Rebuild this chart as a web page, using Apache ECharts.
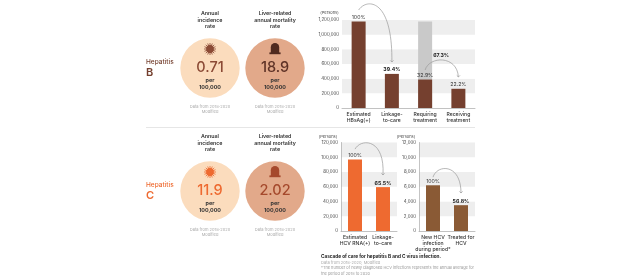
<!DOCTYPE html>
<html><head><meta charset="utf-8">
<style>html,body{margin:0;padding:0;background:#fff}#c{width:624px;height:277px}</style>
<script src="https://cdn.jsdelivr.net/npm/echarts@6/dist/echarts.min.js"></script>
</head><body><div id="c"></div>
<script>
const catsB = ['Estimated\nHBsAg(+)', 'Linkage-\nto-care', 'Requiring\ntreatment', 'Receiving\ntreatment'];
const valsB = [1180000, 465000, 388000, 262000];
const ghostB = [null, null, 1180000, null];
const pctB = ['100%', '39.4%', '32.9%', '22.2%'];
const pctTreated = '67.3%';
const catsC = ['Estimated\nHCV RNA(+)', 'Linkage-\nto-care'];
const valsC = [97000, 59500];
const pctC = ['100%', '65.5%'];
const catsN = ['New HCV\ninfection\nduring period*', 'Treated for\nHCV'];
const valsN = [6200, 3500];
const pctN = ['100%', '56.8%'];
const rates = ['0.71', '18.9', '11.9', '2.02'];

const F = 'Inter, "Noto Sans", sans-serif';
const BROWN = '#75402f', ORANGE = '#ee6a30', OCHRE = '#8a5a35';
const chart = echarts.init(document.getElementById('c'));

function txt(x, y, text, size, color, weight, align) {
  return {type:'text', x, y, silent:true, style:{text, fontSize:size, fill:color, fontWeight:weight||400,
    fontFamily:F, align:align||'center', verticalAlign:'middle', lineHeight:size*1.2}};
}
function virus(cx, cy, color) {
  const kids = [{type:'circle', shape:{cx, cy, r:3.9}, style:{fill:color}}];
  for (let i = 0; i < 16; i++) {
    const a = i * Math.PI / 8;
    kids.push({type:'line', shape:{x1:cx+3*Math.cos(a), y1:cy+3*Math.sin(a), x2:cx+6*Math.cos(a), y2:cy+6*Math.sin(a)},
      style:{stroke:color, lineWidth:0.8}});
  }
  return {type:'group', children:kids, silent:true};
}
function stone(cx, top, color) {
  return {type:'group', silent:true, children:[
    {type:'rect', shape:{x:cx-4.2, y:top, width:8.4, height:10, r:[4.2,4.2,0,0]}, style:{fill:color}},
    {type:'rect', shape:{x:cx-5.6, y:top+9.4, width:11.2, height:1.8}, style:{fill:color}}
  ]};
}
function circleBlock(cx, cy, fill, valueColor, value, icon) {
  return [
    {type:'circle', silent:true, shape:{cx, cy, r:29.7}, style:{fill}},
    icon,
    txt(cx, cy-0.5, value, 14.5, valueColor, 500),
    txt(cx, cy+12, 'per', 5.4, '#333', 700),
    txt(cx, cy+19.5, '100,000', 5.4, '#333', 700)
  ];
}
const graphics = [
  txt(210, 20, 'Annual\nincidence\nrate', 5.3, '#333', 600),
  txt(275, 20, 'Liver-related\nannual mortality\nrate', 5.3, '#333', 600),
  txt(210, 109.5, 'Data from 2018-2020\nModified', 4, '#aaa'),
  txt(275, 109.5, 'Data from 2018-2020\nModified', 4, '#aaa'),
  txt(146, 62, 'Hepatitis', 6.5, BROWN, 500, 'left'),
  txt(146, 73, 'B', 11, BROWN, 600, 'left'),
  ...circleBlock(210, 68, '#fbdcbd', '#8b4a35', rates[0], virus(210, 49, '#8b4a35')),
  ...circleBlock(275, 68, '#e2a98a', '#5e3226', rates[1], stone(275, 43, '#4f2a20')),
  {type:'line', silent:true, shape:{x1:146, y1:127.5, x2:475, y2:127.5}, style:{stroke:'#e6e6e6', lineWidth:1}},
  txt(210, 143, 'Annual\nincidence\nrate', 5.3, '#333', 600),
  txt(275, 143, 'Liver-related\nannual mortality\nrate', 5.3, '#333', 600),
  txt(210, 232.5, 'Data from 2018-2020\nModified', 4, '#aaa'),
  txt(275, 232.5, 'Data from 2018-2020\nModified', 4, '#aaa'),
  txt(146, 185, 'Hepatitis', 6.5, ORANGE, 500, 'left'),
  txt(146, 196, 'C', 11, ORANGE, 600, 'left'),
  ...circleBlock(210, 191, '#fbdcbd', ORANGE, rates[2], virus(210, 172, ORANGE)),
  ...circleBlock(275, 191, '#e2a98a', '#a5492c', rates[3], stone(275, 166, '#a5492c')),
  txt(321, 257, 'Cascade of care for hepatitis B and C virus infection.', 4.7, '#222', 700, 'left'),
  txt(321, 262.5, 'Data from 2018-2020, Modified', 4, '#aaa', 400, 'left'),
  txt(321, 268, '*The number of newly diagnosed HCV infections represents the annual average for', 3.9, '#999', 400, 'left'),
  txt(321, 274, 'the period of 2018 to 2020', 3.9, '#999', 400, 'left'),
  txt(329.5, 13, '(Persons)', 4, '#444'),
  txt(328, 137, '(Persons)', 4, '#444'),
  txt(406, 137, '(Persons)', 4, '#444')
];
const grids = [
  {left:342, top:20, width:133, height:88},
  {left:341, top:142.5, width:56, height:88.5},
  {left:419, top:142.5, width:56, height:88.5}
];
function xA(i, data) {
  return {type:'category', gridIndex:i, data, axisTick:{show:false},
    axisLine:{lineStyle:{color:'#999', width:0.6}},
    axisLabel:{fontSize:5.1, color:'#333', fontFamily:F, fontWeight:500, margin:3, lineHeight:6, interval:0}};
}
function yA(i, max, interval, line) {
  return {type:'value', gridIndex:i, min:0, max, interval,
    axisLine:{show:line, lineStyle:{color:'#aaa', width:0.7}}, axisTick:{show:false}, splitLine:{show:false},
    splitArea:{show:true, areaStyle:{color:['#ffffff','#eeeeee'], opacity:1}},
    axisLabel:{fontSize:4.4, color:'#444', fontFamily:F, margin:3, formatter:v=>v.toLocaleString('en-US')}};
}
function bars(i, data, color, pct) {
  return {type:'bar', xAxisIndex:i, yAxisIndex:i, data, barWidth:14, z:3, barGap:'-100%',
    itemStyle:{color}, label:{show:true, position:'top', distance:1.5, fontSize:5.2, fontFamily:F, color:'#333',
      formatter:p=>pct[p.dataIndex]}};
}
// arcs: axis index, from category/value, to category/value, control offsets
const arcs = [
  {i:0, from:[0,1336000], to:[1,627000], ctl:[[8,-12],[34,-12]], color:'#999'},
  {i:0, from:[2,518000], to:[3,423000], ctl:[[4,-14],[32,-15]], color:'#999', text:pctTreated, textAt:[16,-15]},
  {i:1, from:[0,111000], to:[1,76000], ctl:[[6,-11],[30,-11]], color:'#999'},
  {i:2, from:[0,7300], to:[1,5150], ctl:[[4,-13],[28,-14]], color:'#999'}
];
function arcSeries(a) {
  return {type:'custom', xAxisIndex:a.i, yAxisIndex:a.i, coordinateSystem:'cartesian2d', clip:false, silent:true, z:4,
    data:[[a.from[0],a.from[1],a.to[0],a.to[1]]],
    renderItem:(p, api) => {
      const s = api.coord([api.value(0), api.value(1)]);
      const e = api.coord([api.value(2), api.value(3)]);
      const c1 = [s[0]+a.ctl[0][0], s[1]+a.ctl[0][1]];
      const c2 = [s[0]+a.ctl[1][0], s[1]+a.ctl[1][1]];
      const children = [
        {type:'path', shape:{pathData:`M${s[0]} ${s[1]} C${c1[0]} ${c1[1]} ${c2[0]} ${c2[1]} ${e[0]} ${e[1]}`},
          style:{stroke:a.color, fill:'none', lineWidth:0.7}},
        {type:'path', shape:{pathData:`M${e[0]-1.6} ${e[1]-1.6} L${e[0]} ${e[1]} L${e[0]+1.6} ${e[1]-1.6}`},
          style:{stroke:a.color, fill:'none', lineWidth:0.7}}
      ];
      if (a.text) children.push({type:'text', x:s[0]+a.textAt[0], y:s[1]+a.textAt[1],
        style:{text:a.text, fontSize:5.2, fontWeight:700, fill:'#222', fontFamily:F, align:'center', verticalAlign:'middle'}});
      return {type:'group', children};
    }};
}
function boldBar(s, idx) {
  s.data = s.data.map((v,k)=> idx.includes(k) ? {value:v, label:{fontWeight:700, color:'#222'}} : v);
  return s;
}
const series = [
  {type:'bar', xAxisIndex:0, yAxisIndex:0, data:ghostB, barWidth:14, z:2, barGap:'-100%', itemStyle:{color:'#c9c9c9'}, silent:true},
  boldBar(bars(0, valsB, BROWN, pctB), [1]),
  boldBar(bars(1, valsC, ORANGE, pctC), [1]),
  boldBar(bars(2, valsN, OCHRE, pctN), [1]),
  ...arcs.map(arcSeries)
];
chart.setOption({
  animation:false,
  grid:grids,
  xAxis:[xA(0,catsB), xA(1,catsC), xA(2,catsN)],
  yAxis:[yA(0,1200000,200000,false), yA(1,120000,20000,true), yA(2,12000,2000,true)],
  series,
  graphic:graphics
});
</script></body></html>
